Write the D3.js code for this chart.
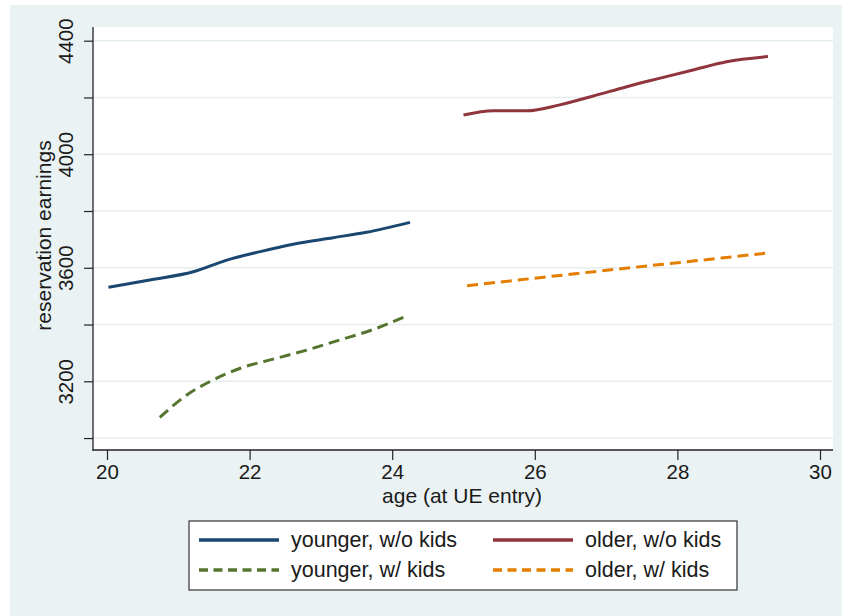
<!DOCTYPE html>
<html>
<head>
<meta charset="utf-8">
<script src="https://cdn.jsdelivr.net/npm/d3@7"></script>
<style>
  html, body { margin: 0; padding: 0; background: #ffffff; }
  svg { display: block; }
  text { font-family: "Liberation Sans", Arial, sans-serif; fill: #1a1a1a; }
</style>
</head>
<body>
<svg id="chart" width="842" height="616"></svg>
<script>
// ---- data ----
const youngNoKidsAge = [20.02, 20.6, 21.21, 21.68, 22.15, 22.61, 23.17, 23.64, 24.25];
const youngNoKidsVal = [3531, 3557, 3586, 3627, 3657, 3683, 3706, 3725, 3760];

const youngKidsAge = [20.74, 21.12, 21.49, 21.87, 22.33, 22.80, 23.27, 23.74, 24.20];
const youngKidsVal = [3073, 3152, 3205, 3246, 3278, 3310, 3346, 3383, 3430];

const oldNoKidsAge = [25.0, 25.42, 25.89, 26.35, 26.82, 27.29, 27.76, 28.22, 28.69, 29.27];
const oldNoKidsVal = [4138, 4153, 4153, 4174, 4205, 4238, 4268, 4297, 4326, 4344];

const oldKidsAge = [25.05, 26.1, 27.15, 28.2, 29.23];
const oldKidsVal = [3537, 3566, 3595, 3623, 3651];

const xTicks = [20, 22, 24, 26, 28, 30];
const yTicks = [3000, 3200, 3400, 3600, 3800, 4000, 4200, 4400];
const yLabels = [3200, 3600, 4000, 4400];

const seriesNames = ["younger, w/o kids", "older, w/o kids", "younger, w/ kids", "older, w/ kids"];

// ---- styles ----
const colors = {
  "younger, w/o kids": "#1a476f",
  "older, w/o kids": "#90353b",
  "younger, w/ kids": "#55752f",
  "older, w/ kids": "#e37e00"
};
const dashed = {
  "younger, w/o kids": false,
  "older, w/o kids": false,
  "younger, w/ kids": true,
  "older, w/ kids": true
};

const series = [
  { name: "younger, w/o kids", ages: youngNoKidsAge, vals: youngNoKidsVal },
  { name: "younger, w/ kids", ages: youngKidsAge, vals: youngKidsVal },
  { name: "older, w/o kids", ages: oldNoKidsAge, vals: oldNoKidsVal },
  { name: "older, w/ kids", ages: oldKidsAge, vals: oldKidsVal }
];

const svg = d3.select("#chart");

// outer background
svg.append("rect").attr("x", 10).attr("y", 5).attr("width", 832).attr("height", 611)
  .attr("fill", "#eaf2f3");

// plot region
const plot = { left: 93, right: 833, top: 27, bottom: 450 };
svg.append("rect").attr("x", plot.left).attr("y", plot.top)
  .attr("width", plot.right - plot.left).attr("height", plot.bottom - plot.top)
  .attr("fill", "#ffffff");

const x = d3.scaleLinear().domain([20, 30]).range([107, 820]);
const y = d3.scaleLinear().domain([3200, 4400]).range([381.3, 40.7]);

// gridlines
svg.append("g").selectAll("line").data(yTicks).join("line")
  .attr("x1", plot.left).attr("x2", plot.right)
  .attr("y1", d => y(d)).attr("y2", d => y(d))
  .attr("stroke", "#e6eef0").attr("stroke-width", 1.4);

// y axis
const yAxis = d3.axisLeft(y).tickValues(yTicks).tickSize(9).tickPadding(0)
  .tickFormat(d => yLabels.includes(d) ? String(d) : "");
const gy = svg.append("g").attr("transform", `translate(${plot.left},0)`).call(yAxis);
gy.select(".domain").remove();
gy.selectAll(".tick line").attr("stroke", "#222").attr("stroke-width", 1.2);
gy.selectAll(".tick text")
  .attr("transform", "rotate(-90)")
  .attr("x", 0).attr("y", -20).attr("dy", 0)
  .attr("text-anchor", "middle")
  .style("font-size", "20.5px")
  .style("font-family", "'Liberation Sans', Arial, sans-serif")
  .attr("fill", "#1a1a1a");

// x axis
const xAxis = d3.axisBottom(x).tickValues(xTicks).tickSize(10).tickPadding(0)
  .tickFormat(d3.format("d"));
const gx = svg.append("g").attr("transform", `translate(0,${plot.bottom})`).call(xAxis);
gx.select(".domain").remove();
gx.selectAll(".tick line").attr("stroke", "#222").attr("stroke-width", 1.2);
gx.selectAll(".tick text")
  .attr("y", 29).attr("dy", 0)
  .style("font-size", "20.5px")
  .style("font-family", "'Liberation Sans', Arial, sans-serif")
  .attr("fill", "#1a1a1a");

// axis lines
svg.append("line").attr("x1", plot.left).attr("x2", plot.left)
  .attr("y1", plot.top).attr("y2", plot.bottom + 0.6)
  .attr("stroke", "#222").attr("stroke-width", 1.3);
svg.append("line").attr("x1", plot.left - 0.6).attr("x2", plot.right)
  .attr("y1", plot.bottom).attr("y2", plot.bottom)
  .attr("stroke", "#222").attr("stroke-width", 1.3);

// axis titles
svg.append("text").attr("x", (plot.left + plot.right) / 2 - 1).attr("y", 503)
  .attr("text-anchor", "middle").style("font-size", "21px")
  .text("age (at UE entry)");
svg.append("text")
  .attr("transform", `translate(51,${(plot.top + plot.bottom) / 2 - 3}) rotate(-90)`)
  .attr("text-anchor", "middle").style("font-size", "21px")
  .text("reservation earnings");

// lines
const line = d3.line().x(d => x(d[0])).y(d => y(d[1])).curve(d3.curveMonotoneX);
svg.append("g").selectAll("path").data(series).join("path")
  .attr("d", s => line(s.ages.map((a, i) => [a, s.vals[i]])))
  .attr("fill", "none")
  .attr("stroke", s => colors[s.name])
  .attr("stroke-width", 3)
  .attr("stroke-dasharray", s => dashed[s.name] ? "11,6" : null);

// legend
const lg = svg.append("g");
lg.append("rect").attr("x", 189).attr("y", 521).attr("width", 548).attr("height", 69)
  .attr("fill", "#ffffff").attr("stroke", "#333").attr("stroke-width", 1.2);
const legendPos = [
  { name: "younger, w/o kids", lx: 199, ly: 540 },
  { name: "older, w/o kids", lx: 493, ly: 540 },
  { name: "younger, w/ kids", lx: 199, ly: 570 },
  { name: "older, w/ kids", lx: 493, ly: 570 }
];
const li = lg.selectAll("g.item").data(legendPos).join("g").attr("class", "item");
li.append("line")
  .attr("x1", d => d.lx).attr("x2", d => d.lx + 80)
  .attr("y1", d => d.ly).attr("y2", d => d.ly)
  .attr("stroke", d => colors[d.name]).attr("stroke-width", 3.4)
  .attr("stroke-dasharray", d => dashed[d.name] ? "9,5.5" : null);
li.append("text")
  .attr("x", d => d.lx + 92).attr("y", d => d.ly + 7)
  .style("font-size", "21.5px")
  .text(d => d.name);
</script>
</body>
</html>
